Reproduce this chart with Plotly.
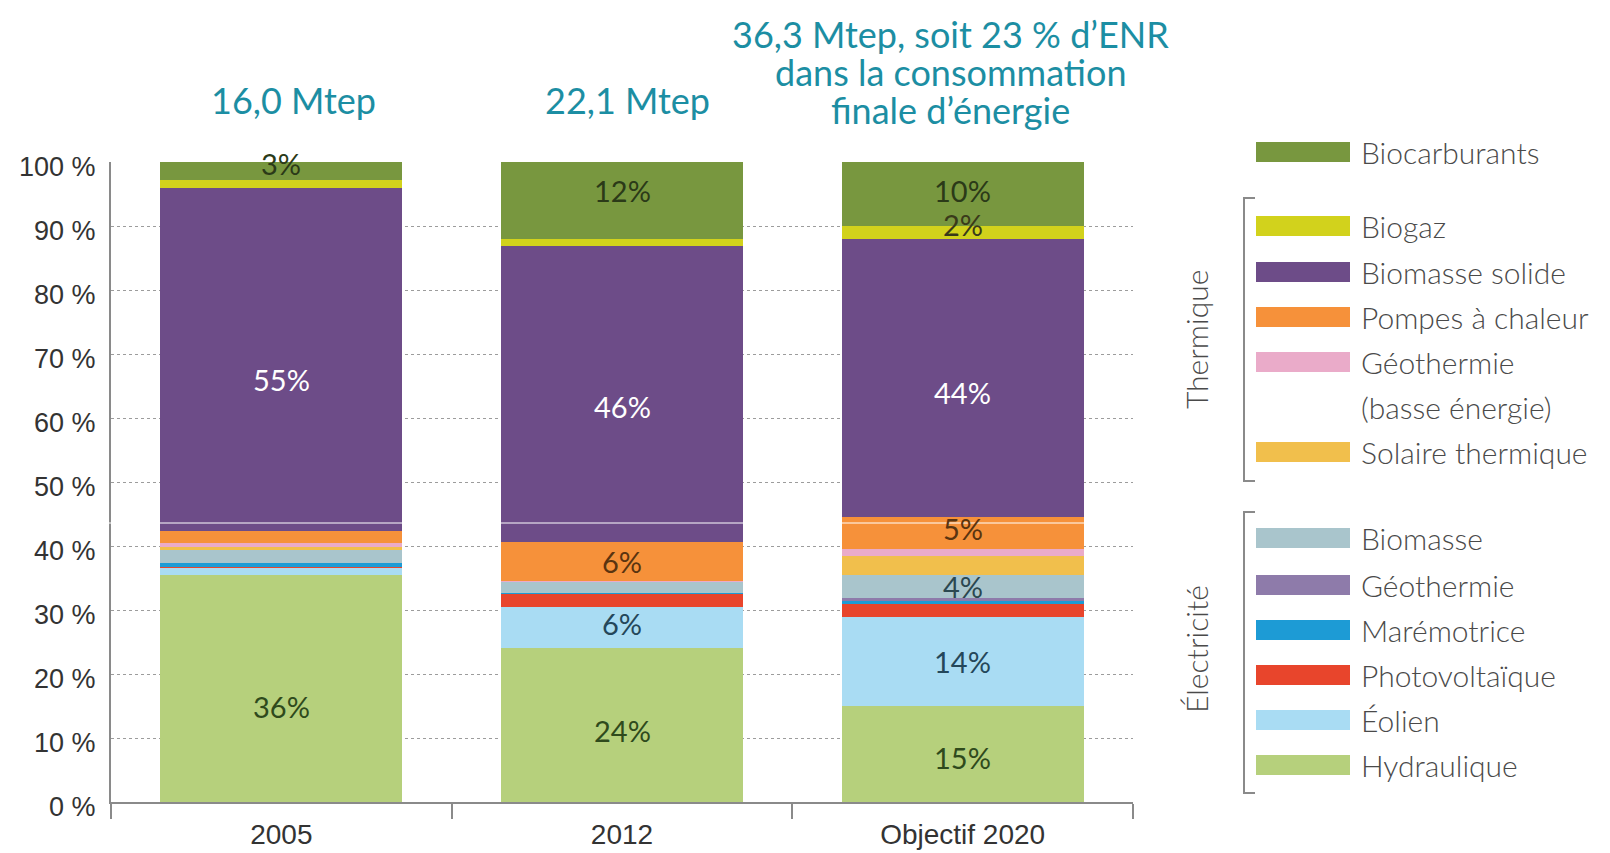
import plotly.graph_objects as go

# Categories
years = ['2005', '2012', 'Objectif 2020']

# Shares (%) per source, bottom of the stack first
hydraulique = [35.5, 24.0, 15.0]
eolien = [1.1, 6.4, 13.9]
photovoltaique = [0.1, 2.2, 2.0]
maremotrice = [0.6, 0.1, 0.6]
geothermie_elec = [0.0, 0.0, 0.3]
biomasse_elec = [2.2, 1.7, 3.6]
solaire_thermique = [0.3, 0.1, 3.1]
geothermie_be = [0.6, 0.1, 1.1]
pompes_chaleur = [2.0, 6.0, 5.0]
biomasse_solide = [53.5, 46.3, 43.4]
biogaz = [1.3, 1.1, 2.0]
biocarburants = [2.8, 12.0, 10.0]

# Labels printed on the segments
lbl_hydraulique = ['36%', '24%', '15%']
lbl_eolien = ['', '6%', '14%']
lbl_biomasse_elec = ['', '', '4%']
lbl_pompes = ['', '6%', '5%']
lbl_biomasse_solide = ['55%', '46%', '44%']
lbl_biogaz = ['', '', '2%']
lbl_biocarburants = ['3%', '12%', '10%']

totals = [['16,0 Mtep'], ['22,1 Mtep'],
          ['36,3 Mtep, soit 23 % d\u2019ENR', 'dans la consommation', 'finale d\u2019énergie']]

TEAL = '#1c8ea3'
TEXT = '#3a3a3a'
GILL = 'Lato, "Open Sans", sans-serif'
SANS = '"Liberation Sans", Arial, sans-serif'

series = [
    ('Hydraulique', hydraulique, '#b6d07c', lbl_hydraulique, '#2f4a1c'),
    ('Éolien', eolien, '#a9dcf3', lbl_eolien, '#24475a'),
    ('Photovoltaïque', photovoltaique, '#e8452c', None, TEXT),
    ('Marémotrice', maremotrice, '#1d9bd5', None, TEXT),
    ('Géothermie', geothermie_elec, '#8e7baa', None, TEXT),
    ('Biomasse', biomasse_elec, '#a9c5cc', lbl_biomasse_elec, '#2b4850'),
    ('Solaire thermique', solaire_thermique, '#f1bf4c', None, TEXT),
    ('Géothermie (basse énergie)', geothermie_be, '#eaabc9', None, TEXT),
    ('Pompes à chaleur', pompes_chaleur, '#f6913a', lbl_pompes, '#5a3410'),
    ('Biomasse solide', biomasse_solide, '#6d4c88', lbl_biomasse_solide, '#ffffff'),
    ('Biogaz', biogaz, '#d2d21c', lbl_biogaz, '#3a3a1a'),
    ('Biocarburants', biocarburants, '#78973f', lbl_biocarburants, '#2b3a18'),
]

# small nudges (px, + = down) so labels sit where the original puts them
label_nudge = {
    ('Biocarburants', 0): -7, ('Biocarburants', 1): -10, ('Biocarburants', 2): -4,
    ('Biogaz', 2): -8,
    ('Biomasse solide', 0): 20, ('Biomasse solide', 1): 12, ('Biomasse solide', 2): 15,
    ('Pompes à chaleur', 2): -4, ('Éolien', 1): -4,
    ('Hydraulique', 0): 18, ('Hydraulique', 1): 5, ('Hydraulique', 2): 3,
}

W, H = 1610, 853
OFF = 8  # page body margin
L, R, T, B = 111 - OFF, 477 + OFF, 162 - OFF, 51 + OFF
PW, PH = W - L - R, H - T - B


def px(x):
    return (x - OFF - L) / PW


def py(y):
    return (H - B - (y - OFF)) / PH


fig = go.Figure()
base = [0.0] * len(years)
for name, vals, color, labels, tcol in series:
    fig.add_trace(go.Bar(
        x=years, y=vals, name=name,
        marker=dict(color=color, line=dict(width=0)),
        hoverinfo='skip',
    ))
    if labels:
        for i, lab in enumerate(labels):
            if lab:
                fig.add_annotation(
                    x=i, y=base[i] + vals[i] / 2, xref='x', yref='y',
                    text=lab, showarrow=False, xanchor='center', yanchor='middle',
                    yshift=-label_nudge.get((name, i), 0),
                    font=dict(family=GILL, size=29, color=tcol),
                )
    base = [b + v for b, v in zip(base, vals)]

fig.update_layout(
    width=W, height=H,
    margin=dict(l=L, r=R, t=T, b=B),
    barmode='stack', bargap=0.29,
    showlegend=False,
    paper_bgcolor='white', plot_bgcolor='white',
    font=dict(family=GILL, color=TEXT),
)
fig.update_xaxes(
    type='category', range=[-0.5, 2.5],
    showline=True, linecolor='#8a8a8a', linewidth=2,
    ticks='outside', tickson='boundaries', ticklen=15, tickwidth=2, tickcolor='#8a8a8a',
    ticklabelstandoff=6,
    tickfont=dict(family=SANS, size=28, color='#333333'),
    showgrid=False,
)
fig.update_yaxes(
    range=[0, 100], dtick=10, ticksuffix=' %',
    showline=True, linecolor='#8a8a8a', linewidth=2,
    showgrid=True, gridcolor='#9c9c9c', griddash='dot', gridwidth=1,
    zeroline=False, ticklabelstandoff=8, ticklabelshift=5,
    tickfont=dict(family=SANS, size=27, color='#333333'),
)

# totals above the bars
tot_rows = [[100], [100], [34, 72, 110]]
tot_shift = [12, 5, -12]
for i, (lines, rows, sh) in enumerate(zip(totals, tot_rows, tot_shift)):
    for txt, yy in zip(lines, rows):
        fig.add_annotation(
            x=i, xref='x', y=py(yy), yref='paper', xanchor='center', yanchor='middle',
            xshift=sh, text=txt, showarrow=False,
            font=dict(family=GILL, size=36, color=TEAL),
        )

# thin white scan line across the bars
fig.add_shape(type='line', xref='paper', yref='paper', x0=px(100), x1=px(1090),
              y0=py(523), y1=py(523), line=dict(color='white', width=1), layer='above')

# custom legend
legend_items = [
    ('Biocarburants', '#78973f', 152),
    ('Biogaz', '#d2d21c', 226),
    ('Biomasse solide', '#6d4c88', 272),
    ('Pompes à chaleur', '#f6913a', 317),
    ('Géothermie', '#eaabc9', 362),
    ('Solaire thermique', '#f1bf4c', 452),
    ('Biomasse', '#a9c5cc', 538),
    ('Géothermie', '#8e7baa', 585),
    ('Marémotrice', '#1d9bd5', 630),
    ('Photovoltaïque', '#e8452c', 675),
    ('Éolien', '#a9dcf3', 720),
    ('Hydraulique', '#b6d07c', 765),
]
LEG_FONT = dict(family=GILL, size=30, color='#4a4a4a', weight=300)
for label, color, yc in legend_items:
    fig.add_shape(type='rect', xref='paper', yref='paper',
                  x0=px(1256), x1=px(1350), y0=py(yc + 10), y1=py(yc - 10),
                  fillcolor=color, line=dict(width=0))
    fig.add_annotation(xref='paper', yref='paper', x=px(1359), y=py(yc),
                       xanchor='left', yanchor='middle', text=label, showarrow=False,
                       font=LEG_FONT)
fig.add_annotation(xref='paper', yref='paper', x=px(1359), y=py(407),
                   xanchor='left', yanchor='middle', text='(basse énergie)', showarrow=False,
                   font=LEG_FONT)

# brackets and group titles
for y0, y1, title, ymid in [(198, 481, 'Thermique', 340), (512, 793, 'Électricité', 649)]:
    fig.add_shape(type='path', xref='paper', yref='paper',
                  path=f'M {px(1255)},{py(y0)} L {px(1244)},{py(y0)} L {px(1244)},{py(y1)} L {px(1255)},{py(y1)}',
                  line=dict(color='#8a8a8a', width=2))
    fig.add_annotation(xref='paper', yref='paper', x=px(1196), y=py(ymid),
                       xanchor='center', yanchor='middle',
                       text=title, textangle=-90, showarrow=False,
                       font=LEG_FONT)

fig.write_html('out.html')
